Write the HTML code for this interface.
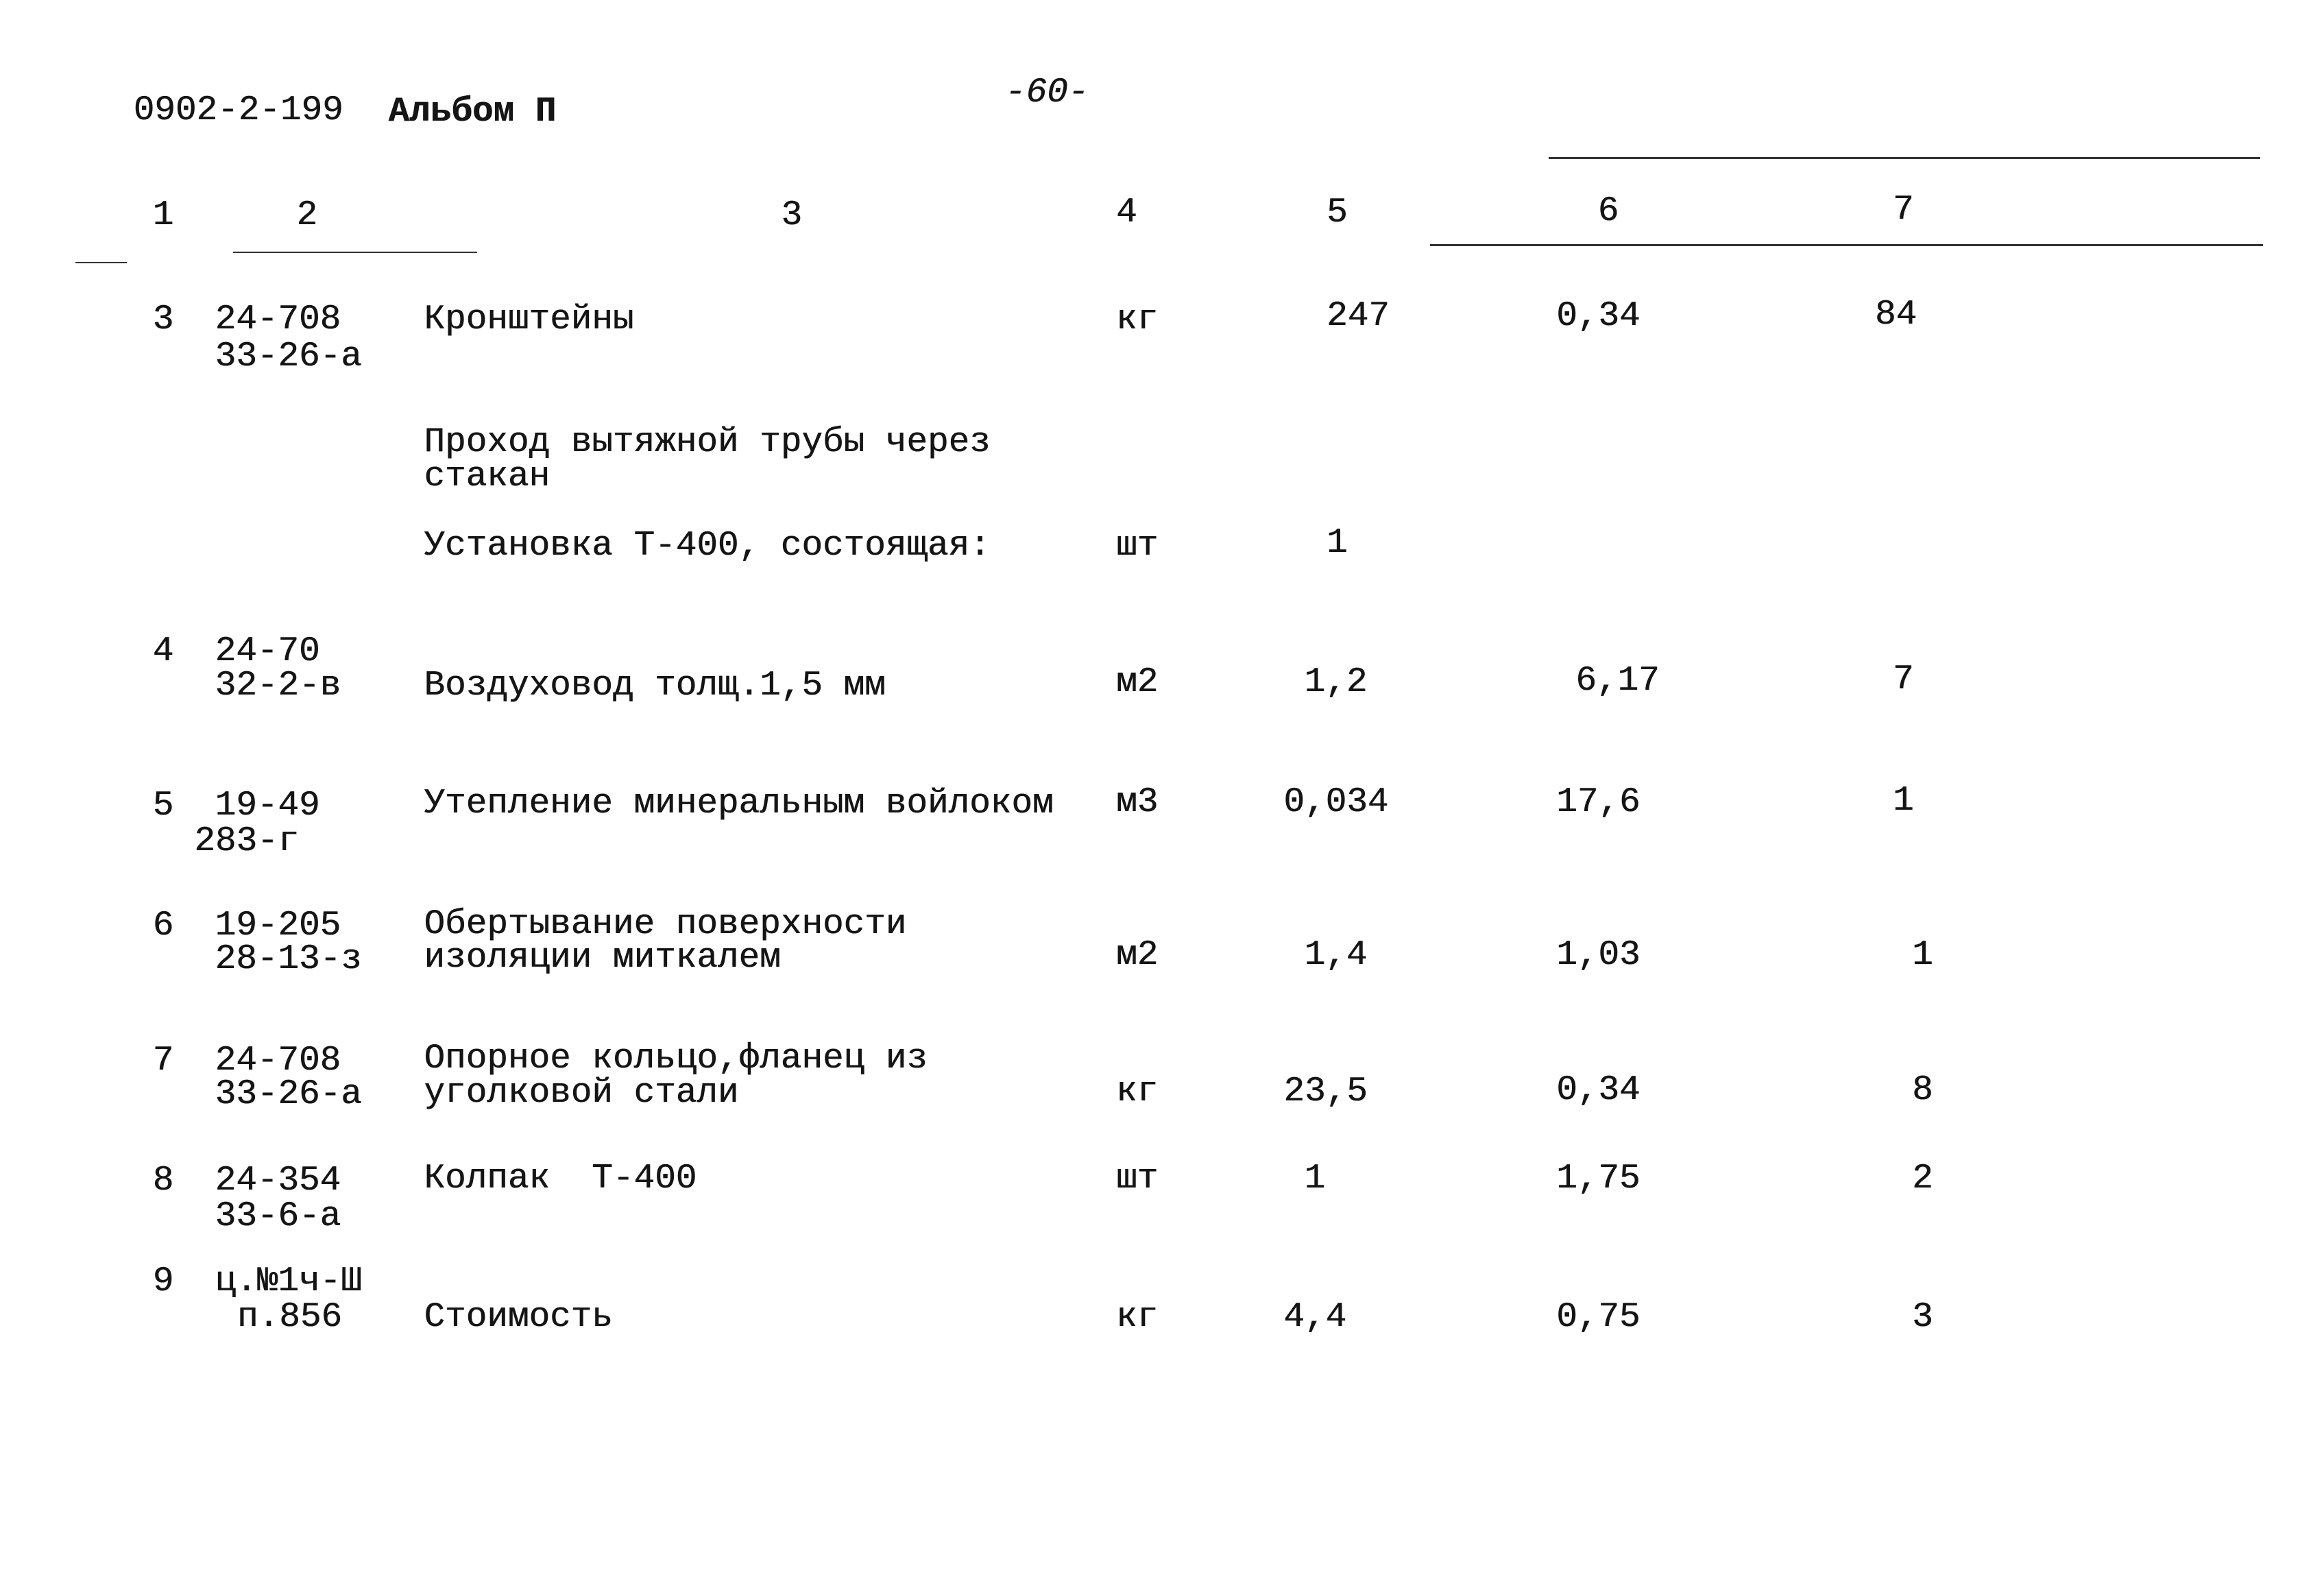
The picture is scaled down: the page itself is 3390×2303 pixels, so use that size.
<!DOCTYPE html>
<html><head><meta charset="utf-8">
<style>
html,body{margin:0;padding:0;background:#fff;}
body{width:3390px;height:2303px;position:relative;overflow:hidden;}
.t{position:absolute;left:calc(var(--x) * 2.162px);top:calc(var(--y) * 2.162px - 24px);
font-family:"Liberation Mono","DejaVu Sans Mono",monospace;font-size:51px;line-height:60px;
color:#151515;white-space:pre;text-shadow:0.6px 0 0 #151515;}
.l{position:absolute;height:3px;background:#333;}
</style></head><body>
<div class="t" style="--x:90;--y:72">0902-2-199</div>
<div class="t" style="--x:262;--y:73;font-weight:bold">Альбом П</div>
<div class="t" style="--x:678;--y:60;font-style:italic">-60-</div>

<div class="l" style="left:2259px;top:229px;width:1038px;height:3px"></div>
<div class="l" style="left:2086px;top:356px;width:1215px"></div>
<div class="l" style="left:340px;top:367px;width:356px;height:2px"></div>
<div class="l" style="left:110px;top:382px;width:75px;height:2px"></div>

<div class="t" style="--x:103;--y:143">1</div>
<div class="t" style="--x:200;--y:143">2</div>
<div class="t" style="--x:527;--y:143">3</div>
<div class="t" style="--x:753;--y:141">4</div>
<div class="t" style="--x:895;--y:141">5</div>
<div class="t" style="--x:1078;--y:140">6</div>
<div class="t" style="--x:1277;--y:139">7</div>

<div class="t" style="--x:103;--y:213">3</div>
<div class="t" style="--x:145;--y:213">24-708</div>
<div class="t" style="--x:145;--y:238">33-26-а</div>
<div class="t" style="--x:286;--y:213">Кронштейны</div>
<div class="t" style="--x:753;--y:213">кг</div>
<div class="t" style="--x:895;--y:211">247</div>
<div class="t" style="--x:1050;--y:211">0,34</div>
<div class="t" style="--x:1265;--y:210">84</div>

<div class="t" style="--x:286;--y:296">Проход вытяжной трубы через</div>
<div class="t" style="--x:286;--y:319">стакан</div>
<div class="t" style="--x:286;--y:366">Установка Т-400, состоящая:</div>
<div class="t" style="--x:753;--y:366">шт</div>
<div class="t" style="--x:895;--y:364">1</div>

<div class="t" style="--x:103;--y:437">4</div>
<div class="t" style="--x:145;--y:437">24-70</div>
<div class="t" style="--x:145;--y:460">32-2-в</div>
<div class="t" style="--x:286;--y:460">Воздуховод толщ.1,5 мм</div>
<div class="t" style="--x:753;--y:458">м2</div>
<div class="t" style="--x:880;--y:458">1,2</div>
<div class="t" style="--x:1063;--y:457">6,17</div>
<div class="t" style="--x:1277;--y:456">7</div>

<div class="t" style="--x:103;--y:541">5</div>
<div class="t" style="--x:145;--y:541">19-49</div>
<div class="t" style="--x:131;--y:565">283-г</div>
<div class="t" style="--x:286;--y:540">Утепление минеральным войлоком</div>
<div class="t" style="--x:753;--y:539">м3</div>
<div class="t" style="--x:866;--y:539">0,034</div>
<div class="t" style="--x:1050;--y:539">17,6</div>
<div class="t" style="--x:1277;--y:538">1</div>

<div class="t" style="--x:103;--y:622">6</div>
<div class="t" style="--x:145;--y:622">19-205</div>
<div class="t" style="--x:145;--y:645">28-13-з</div>
<div class="t" style="--x:286;--y:621">Обертывание поверхности</div>
<div class="t" style="--x:286;--y:644">изоляции миткалем</div>
<div class="t" style="--x:753;--y:642">м2</div>
<div class="t" style="--x:880;--y:642">1,4</div>
<div class="t" style="--x:1050;--y:642">1,03</div>
<div class="t" style="--x:1290;--y:642">1</div>

<div class="t" style="--x:103;--y:713">7</div>
<div class="t" style="--x:145;--y:713">24-708</div>
<div class="t" style="--x:145;--y:736">33-26-а</div>
<div class="t" style="--x:286;--y:712">Опорное кольцо,фланец из</div>
<div class="t" style="--x:286;--y:735">уголковой стали</div>
<div class="t" style="--x:753;--y:734">кг</div>
<div class="t" style="--x:866;--y:734">23,5</div>
<div class="t" style="--x:1050;--y:733">0,34</div>
<div class="t" style="--x:1290;--y:733">8</div>

<div class="t" style="--x:103;--y:794">8</div>
<div class="t" style="--x:145;--y:794">24-354</div>
<div class="t" style="--x:145;--y:818">33-6-а</div>
<div class="t" style="--x:286;--y:793">Колпак  Т-400</div>
<div class="t" style="--x:753;--y:793">шт</div>
<div class="t" style="--x:880;--y:793">1</div>
<div class="t" style="--x:1050;--y:793">1,75</div>
<div class="t" style="--x:1290;--y:793">2</div>

<div class="t" style="--x:103;--y:862">9</div>
<div class="t" style="--x:145;--y:862">ц.№1ч-Ш</div>
<div class="t" style="--x:160;--y:886">п.856</div>
<div class="t" style="--x:286;--y:886">Стоимость</div>
<div class="t" style="--x:753;--y:886">кг</div>
<div class="t" style="--x:866;--y:886">4,4</div>
<div class="t" style="--x:1050;--y:886">0,75</div>
<div class="t" style="--x:1290;--y:886">3</div>
</body></html>
